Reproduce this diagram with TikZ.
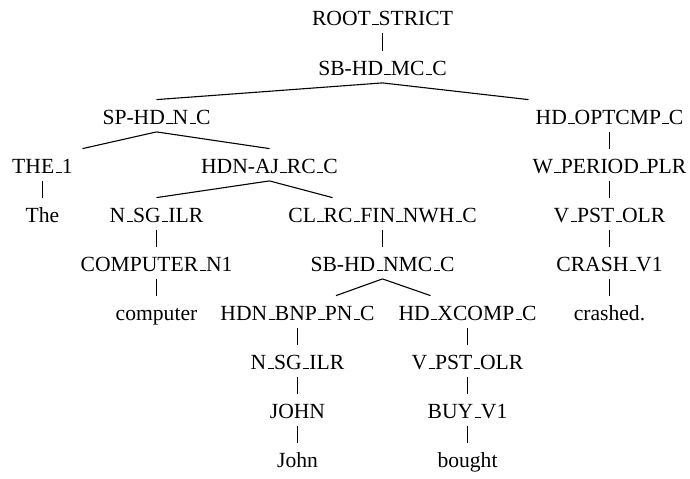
\documentclass[tikz,border=0pt]{standalone}
\usepackage{fontspec}
\setmainfont{Liberation Serif}
\usepackage{tikz}
\usetikzlibrary{positioning,calc}
\newcommand\us{\leavevmode\kern.06em\vbox{\hrule width .3em}}

\begin{document}
\begin{tikzpicture}[x=0.5pt,y=-0.5pt,
  lbl/.style={anchor=base,inner sep=0pt,font=\fontsize{10.8}{13}\selectfont,
              text height=12pt,text depth=3.75pt},
  br/.style={line width=0.55pt}]
  \useasboundingbox (0,0) rectangle (690,478);

  \node[lbl] (root)    at (382.5,25)  {ROOT\us STRICT};
  \node[lbl] (sbhdmc)  at (382.5,75)  {SB-HD\us MC\us C};

  \node[lbl] (sphdn)   at (156.5,124) {SP-HD\us N\us C};
  \node[lbl] (optcmp)  at (609.5,124) {HD\us OPTCMP\us C};

  \node[lbl] (the1)    at (42.5,173)  {THE\us 1};
  \node[lbl] (hdnaj)   at (269.5,173) {HDN-AJ\us RC\us C};
  \node[lbl] (wperiod) at (609.5,173) {W\us PERIOD\us PLR};

  \node[lbl] (theW)    at (42.5,222)  {The};
  \node[lbl] (nsg1)    at (156.5,222) {N\us SG\us ILR};
  \node[lbl] (clrc)    at (382.5,222) {CL\us RC\us FIN\us NWH\us C};
  \node[lbl] (vpst1)   at (609.5,222) {V\us PST\us OLR};

  \node[lbl] (compN)   at (156.5,271) {COMPUTER\us N1};
  \node[lbl] (sbhdnmc) at (382.5,271) {SB-HD\us NMC\us C};
  \node[lbl] (crash)   at (609.5,271) {CRASH\us V1};

  \node[lbl] (compW)   at (156.5,320) {computer};
  \node[lbl] (hdnbnp)  at (297.5,320) {HDN\us BNP\us PN\us C};
  \node[lbl] (xcomp)   at (467.5,320) {HD\us XCOMP\us C};
  \node[lbl] (crashW)  at (609.5,320) {crashed.};

  \node[lbl] (nsg2)    at (297.5,369) {N\us SG\us ILR};
  \node[lbl] (vpst2)   at (467.5,369) {V\us PST\us OLR};

  \node[lbl] (john)    at (297.5,418) {JOHN};
  \node[lbl] (buy)     at (467.5,418) {BUY\us V1};

  \node[lbl] (johnW)   at (297.5,467) {John};
  \node[lbl] (boughtW) at (467.5,467) {bought};

  \draw[br] (root.south)--(sbhdmc.north);
  \draw[br] (sbhdmc.south)--(sphdn.north);
  \draw[br] (sbhdmc.south)--([xshift=-40.5pt]optcmp.north);
  \draw[br] (sphdn.south)--([xshift=20pt]the1.north);
  \draw[br] (sphdn.south)--(hdnaj.north);
  \draw[br] (the1.south)--(theW.north);
  \draw[br] (hdnaj.south)--(nsg1.north);
  \draw[br] (hdnaj.south)--([xshift=-25pt]clrc.north);
  \draw[br] (nsg1.south)--(compN.north); \draw[br] (compN.south)--(compW.north);
  \draw[br] (clrc.south)--(sbhdnmc.north);
  \draw[br] (sbhdnmc.south)--([xshift=19.25pt]hdnbnp.north);
  \draw[br] (sbhdnmc.south)--([xshift=-18.5pt]xcomp.north);
  \draw[br] (hdnbnp.south)--(nsg2.north); \draw[br] (nsg2.south)--(john.north);
  \draw[br] (john.south)--(johnW.north);
  \draw[br] (xcomp.south)--(vpst2.north); \draw[br] (vpst2.south)--(buy.north);
  \draw[br] (buy.south)--(boughtW.north);
  \draw[br] (optcmp.south)--(wperiod.north); \draw[br] (wperiod.south)--(vpst1.north);
  \draw[br] (vpst1.south)--(crash.north); \draw[br] (crash.south)--(crashW.north);
\end{tikzpicture}
\end{document}
